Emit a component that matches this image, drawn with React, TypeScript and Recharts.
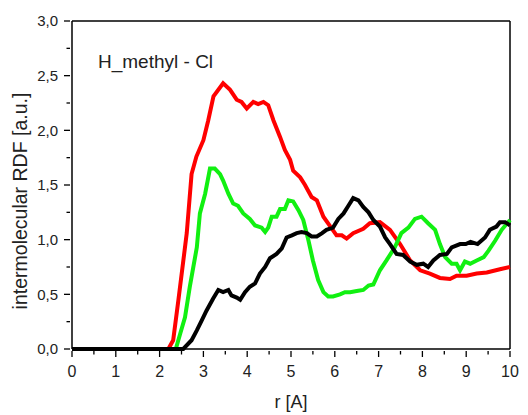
import { LineChart, Line, XAxis, YAxis, ReferenceLine, Customized } from 'recharts';

// r [A] / RDF values, one list per curve
const redR = [0, 2.2, 2.31, 2.43, 2.62, 2.73, 2.84, 3.0, 3.11, 3.23, 3.45, 3.61, 3.76, 3.87, 3.99, 4.14, 4.25, 4.37, 4.48, 4.6, 4.75, 4.86, 4.98, 5.05, 5.21, 5.32, 5.47, 5.59, 5.74, 5.9, 6.04, 6.16, 6.27, 6.42, 6.65, 6.8, 7.03, 7.26, 7.49, 7.72, 7.95, 8.17, 8.4, 8.63, 8.78, 9.01, 9.24, 9.47, 9.77, 10];
const redG = [0, 0, 0.08, 0.45, 1.06, 1.6, 1.76, 1.91, 2.09, 2.31, 2.43, 2.37, 2.28, 2.26, 2.2, 2.26, 2.24, 2.26, 2.23, 2.09, 1.94, 1.82, 1.73, 1.63, 1.57, 1.5, 1.39, 1.36, 1.21, 1.12, 1.04, 1.04, 1.01, 1.06, 1.1, 1.15, 1.16, 1.09, 0.96, 0.81, 0.72, 0.69, 0.65, 0.64, 0.67, 0.67, 0.69, 0.7, 0.73, 0.75];

const greenR = [0, 2.37, 2.47, 2.58, 2.69, 2.85, 2.92, 3.04, 3.15, 3.26, 3.38, 3.45, 3.57, 3.68, 3.79, 3.91, 4.06, 4.18, 4.33, 4.41, 4.48, 4.56, 4.67, 4.75, 4.86, 4.94, 5.05, 5.17, 5.28, 5.4, 5.5, 5.62, 5.74, 5.85, 5.96, 6.12, 6.23, 6.35, 6.5, 6.65, 6.77, 6.88, 7.03, 7.18, 7.37, 7.52, 7.68, 7.83, 7.98, 8.13, 8.29, 8.4, 8.52, 8.67, 8.78, 8.86, 8.97, 9.09, 9.24, 9.4, 9.51, 9.66, 9.81, 10];
const greenG = [0, 0, 0.14, 0.29, 0.57, 0.93, 1.24, 1.42, 1.65, 1.65, 1.6, 1.54, 1.42, 1.33, 1.31, 1.24, 1.19, 1.13, 1.11, 1.07, 1.11, 1.21, 1.21, 1.28, 1.28, 1.36, 1.35, 1.27, 1.18, 0.99, 0.81, 0.63, 0.52, 0.48, 0.48, 0.5, 0.52, 0.52, 0.53, 0.54, 0.58, 0.59, 0.72, 0.81, 0.93, 1.06, 1.11, 1.19, 1.21, 1.15, 1.09, 0.96, 0.84, 0.78, 0.78, 0.72, 0.8, 0.78, 0.81, 0.84, 0.9, 0.99, 1.09, 1.18];

const blackR = [0, 2.54, 2.73, 2.85, 2.96, 3.07, 3.22, 3.34, 3.45, 3.57, 3.64, 3.76, 3.84, 3.95, 4.06, 4.18, 4.29, 4.41, 4.52, 4.67, 4.79, 4.9, 5.02, 5.13, 5.24, 5.36, 5.47, 5.59, 5.71, 5.81, 5.96, 6.08, 6.2, 6.31, 6.42, 6.54, 6.65, 6.77, 6.88, 7.03, 7.15, 7.26, 7.41, 7.56, 7.72, 7.87, 8.02, 8.13, 8.25, 8.4, 8.56, 8.67, 8.86, 8.99, 9.1, 9.26, 9.43, 9.54, 9.69, 9.77, 9.89, 10];
const blackG = [0, 0, 0.08, 0.17, 0.26, 0.35, 0.46, 0.54, 0.52, 0.54, 0.49, 0.47, 0.45, 0.52, 0.57, 0.6, 0.69, 0.75, 0.83, 0.87, 0.92, 1.02, 1.04, 1.06, 1.07, 1.06, 1.03, 1.03, 1.06, 1.09, 1.11, 1.19, 1.24, 1.31, 1.38, 1.36, 1.3, 1.25, 1.18, 1.12, 1.02, 0.96, 0.87, 0.86, 0.8, 0.77, 0.78, 0.75, 0.81, 0.86, 0.87, 0.93, 0.96, 0.96, 0.98, 0.96, 1.02, 1.09, 1.12, 1.16, 1.16, 1.13];

const xTicks = [0, 0.5, 1, 1.5, 2, 2.5, 3, 3.5, 4, 4.5, 5, 5.5, 6, 6.5, 7, 7.5, 8, 8.5, 9, 9.5, 10];
const yTicks = [0, 0.25, 0.5, 0.75, 1, 1.25, 1.5, 1.75, 2, 2.25, 2.5, 2.75, 3];

const toPoints = (rs: number[], gs: number[]) => rs.map((r, i) => ({ r, g: gs[i] }));

const FONT = 'Arial, "Liberation Sans", sans-serif';

const XTick = ({ x, y, payload }: any) => {
  const v = payload.value as number;
  const major = Number.isInteger(v);
  return (
    <g>
      <line x1={x} y1={y} x2={x} y2={y + (major ? 6 : 3.5)} stroke="#000" strokeWidth={1.3} />
      {major && (
        <text x={x} y={y + 26} textAnchor="middle" fontSize={16} fontFamily={FONT} fill="#222">
          {v}
        </text>
      )}
    </g>
  );
};

const YTick = ({ x, y, payload }: any) => {
  const v = payload.value as number;
  const major = Math.abs(v * 2 - Math.round(v * 2)) < 1e-6;
  return (
    <g>
      <line x1={x} y1={y} x2={x - (major ? 6 : 3.5)} y2={y} stroke="#000" strokeWidth={1.3} />
      {major && (
        <text x={x - 12} y={y} dy="0.36em" textAnchor="end" fontSize={15} fontFamily={FONT} fill="#222">
          {v.toFixed(1).replace('.', ',')}
        </text>
      )}
    </g>
  );
};

const Annotations = () => (
  <g fontFamily={FONT} fill="#222">
    <text x={98} y={68} fontSize={19}>H_methyl - Cl</text>
    <text x={291} y={408} fontSize={18} textAnchor="middle">r [A]</text>
    <text x={27} y={201} fontSize={19.5} textAnchor="middle" transform="rotate(-90 27 201)">
      intermolecular RDF [a.u.]
    </text>
  </g>
);

export default function App() {
  return (
    <div style={{ position: 'absolute', left: 0, top: 0, background: '#fff' }}>
      <LineChart width={528} height={415} margin={{ top: 21, right: 18, bottom: 0, left: 0 }}>
        <XAxis
          dataKey="r"
          type="number"
          domain={[0, 10]}
          ticks={xTicks}
          interval={0}
          height={66}
          tickSize={0}
          tickLine={false}
          tick={<XTick />}
          axisLine={{ stroke: '#000', strokeWidth: 1.5 }}
          allowDuplicatedCategory={false}
        />
        <YAxis
          type="number"
          domain={[0, 3]}
          ticks={yTicks}
          interval={0}
          width={72}
          tickSize={0}
          tickLine={false}
          tick={<YTick />}
          axisLine={{ stroke: '#000', strokeWidth: 1.5 }}
        />
        <ReferenceLine y={3} stroke="#000" strokeWidth={1.5} />
        <ReferenceLine x={10} stroke="#000" strokeWidth={1.5} />
        <Line data={toPoints(redR, redG)} dataKey="g" stroke="#ff0000" strokeWidth={4} dot={false} isAnimationActive={false} />
        <Line data={toPoints(greenR, greenG)} dataKey="g" stroke="#11f011" strokeWidth={4} dot={false} isAnimationActive={false} />
        <Line data={toPoints(blackR, blackG)} dataKey="g" stroke="#000000" strokeWidth={4} dot={false} isAnimationActive={false} />
        <Customized component={Annotations} />
      </LineChart>
    </div>
  );
}
